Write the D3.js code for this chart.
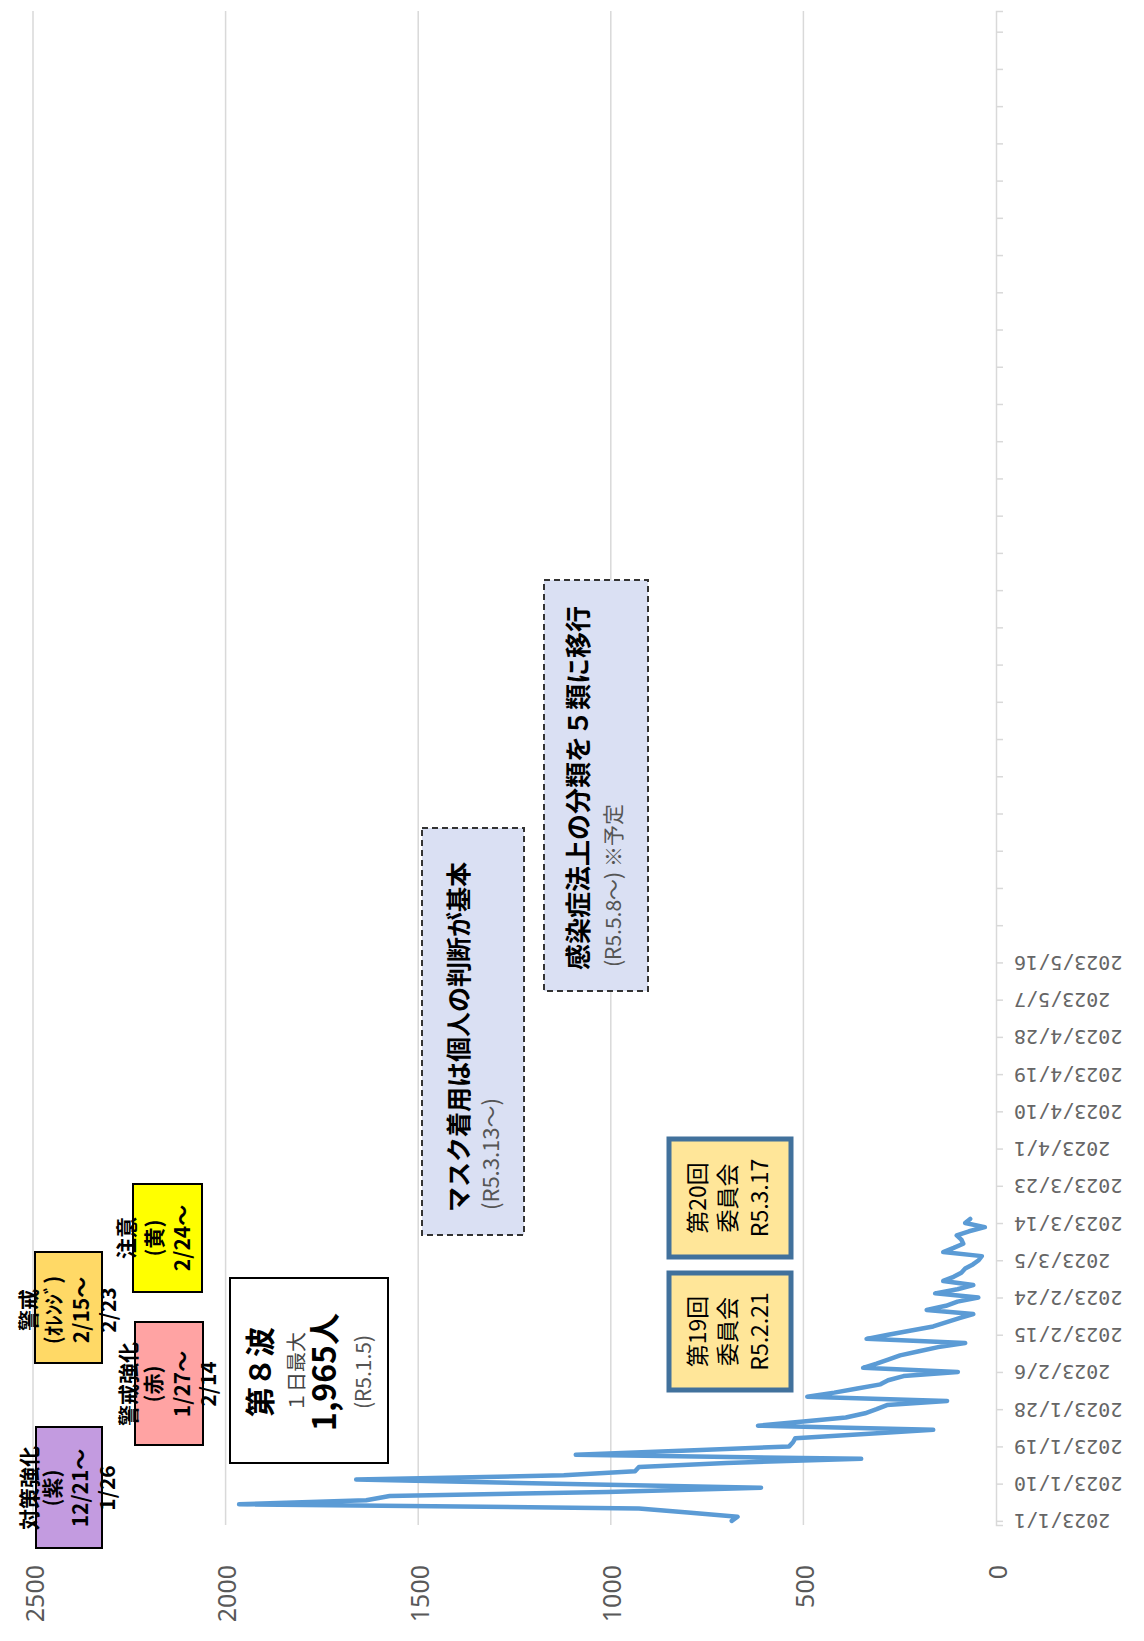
<!DOCTYPE html>
<html>
<head>
<meta charset="utf-8">
<script src="https://cdn.jsdelivr.net/npm/d3@7"></script>
<style>
  body { margin: 0; background: #fff; }
  svg { display: block; font-family: "Noto Sans CJK JP", "Noto Sans", sans-serif; }
</style>
</head>
<body>
<div id="chart"></div>
<script>
// daily new cases, 2023
var dayLabels = [
  "1/1","1/2","1/3","1/4","1/5","1/6","1/7","1/8","1/9","1/10","1/11","1/12","1/13","1/14","1/15","1/16",
  "1/17","1/18","1/19","1/20","1/21","1/22","1/23","1/24","1/25","1/26","1/27","1/28","1/29","1/30","1/31",
  "2/1","2/2","2/3","2/4","2/5","2/6","2/7","2/8","2/9","2/10","2/11","2/12","2/13","2/14","2/15","2/16",
  "2/17","2/18","2/19","2/20","2/21","2/22","2/23","2/24","2/25","2/26","2/27","2/28",
  "3/1","3/2","3/3","3/4","3/5","3/6","3/7","3/8","3/9","3/10","3/11","3/12","3/13","3/14","3/15"
];
var dailyCases = [
  686, 671, 800, 927, 1965, 1635, 1574, 1010, 610, 1140, 1661, 1122, 937, 927, 700, 350,
  1091, 800, 537, 527, 521, 340, 163, 618, 500, 390, 340, 310, 283, 127, 490,
  420, 360, 300, 280, 240, 99, 345, 310, 280, 249, 200, 150, 80, 336, 280, 220,
  163, 130, 95, 59, 180, 130, 100, 46, 158, 100, 59, 137,
  110, 90, 80, 60, 45, 37, 137, 110, 85, 90, 102, 70, 29, 80, 67
];
var valueTicks = [0, 500, 1000, 1500, 2000, 2500];
var dateTickLabels = ["2023/1/1","2023/1/10","2023/1/19","2023/1/28","2023/2/6","2023/2/15","2023/2/24",
  "2023/3/5","2023/3/14","2023/3/23","2023/4/1","2023/4/10","2023/4/19","2023/4/28","2023/5/7","2023/5/16"];

var width = 1144, height = 1641;

function parseDay(s) {
  var p = s.split("/");
  return new Date(2023, +p[0] - 1, +p[1]);
}
var series = dayLabels.map(function (s, i) { return { date: parseDay(s), value: dailyCases[i] }; });

// chart is drawn turned on its side: values run right-to-left, dates bottom-to-top
var xScale = d3.scaleLinear().domain([0, 2500]).range([996, 33]);
var yScale = d3.scaleTime()
  .domain([new Date(2022, 11, 31), new Date(2024, 0, 1)])
  .range([1525, 11]);

var svg = d3.select("#chart").append("svg")
  .attr("width", width).attr("height", height)
  .attr("viewBox", [0, 0, width, height]);
svg.append("rect").attr("width", width).attr("height", height).attr("fill", "#fff");

// gridlines
svg.append("g").selectAll("line")
  .data(valueTicks.filter(function (v) { return v > 0; }))
  .enter().append("line")
  .attr("x1", function (d) { return xScale(d); })
  .attr("x2", function (d) { return xScale(d); })
  .attr("y1", yScale.range()[1])
  .attr("y2", yScale.range()[0])
  .attr("stroke", "#d9d9d9")
  .attr("stroke-width", 1.5);

// value axis labels
var xAxis = svg.append("g")
  .attr("transform", "translate(0," + yScale.range()[0] + ")")
  .call(d3.axisBottom(xScale).tickValues(valueTicks).tickSize(0).tickFormat(d3.format("d")));
xAxis.select(".domain").remove();
xAxis.selectAll("text")
  .attr("y", null).attr("dy", null)
  .attr("transform", "translate(0,40) rotate(-90)")
  .attr("text-anchor", "end")
  .attr("dominant-baseline", "central")
  .attr("fill", "#595959")
  .style("font-family", "'Noto Sans', sans-serif")
  .style("font-size", "25px");

// date axis
var tickDates = d3.range(0, 361, 9).map(function (k) { return d3.timeDay.offset(new Date(2023, 0, 1), k); });
var yAxis = svg.append("g")
  .attr("transform", "translate(" + xScale(0) + ",0)")
  .call(d3.axisRight(yScale).tickValues(tickDates).tickSize(7)
    .tickFormat(function (d, i) { return i < dateTickLabels.length ? dateTickLabels[i] : ""; }));
yAxis.selectAll(".domain, .tick line").attr("stroke", "#d9d9d9").attr("stroke-width", 1.5);
yAxis.selectAll("text")
  .attr("x", null).attr("dy", null)
  .attr("transform", "translate(18,0) rotate(180)")
  .attr("text-anchor", "end")
  .attr("dominant-baseline", "central")
  .attr("fill", "#666")
  .style("font-family", "'DejaVu Sans Mono', monospace")
  .style("font-size", "20px");

// case line
svg.append("path")
  .datum(series)
  .attr("fill", "none")
  .attr("stroke", "#5b9bd5")
  .attr("stroke-width", 4.5)
  .attr("stroke-linejoin", "round")
  .attr("stroke-linecap", "round")
  .attr("d", d3.line()
    .x(function (d) { return xScale(d.value); })
    .y(function (d) { return yScale(d.date); }));

// annotations
var notes = svg.append("g");
function vtext(x, y, str, o) {
  o = o || {};
  notes.append("text")
    .attr("transform", "translate(" + x + "," + y + ") rotate(-90)")
    .attr("text-anchor", o.anchor || "middle")
    .attr("dominant-baseline", "central")
    .attr("fill", o.color || "#000")
    .style("font-size", (o.size || 21) + "px")
    .style("font-weight", o.weight || "normal")
    .style("font-family", o.family || null)
    .text(str);
}
function box(x, y, w, h, fill, stroke, sw, dash) {
  notes.append("rect")
    .attr("x", x).attr("y", y).attr("width", w).attr("height", h)
    .attr("fill", fill).attr("stroke", stroke).attr("stroke-width", sw)
    .attr("stroke-dasharray", dash || null);
}

// alert stages
box(36, 1427, 66, 121, "#c39be0", "#000", 2);
[["対策強化", 28], ["(紫)", 51], ["12/21～", 79], ["1/26", 106]].forEach(function (t) {
  vtext(t[1], 1488, t[0], { weight: "bold" });
});
box(135, 1322, 68, 123, "#ffa3a3", "#000", 2);
[["警戒強化", 127], ["(赤)", 152], ["1/27～", 181], ["2/14", 207]].forEach(function (t) {
  vtext(t[1], 1384, t[0], { weight: "bold" });
});
box(35, 1252, 67, 111, "#ffd966", "#000", 2);
[["警戒", 27], ["(ｵﾚﾝｼﾞ)", 52], ["2/15～", 80], ["2/23", 107]].forEach(function (t) {
  vtext(t[1], 1310, t[0], { weight: "bold" });
});
box(133, 1184, 69, 108, "#ffff00", "#000", 2);
[["注意", 125], ["(黄)", 153], ["2/24～", 181]].forEach(function (t) {
  vtext(t[1], 1238, t[0], { weight: "bold" });
});

// wave peak
box(230, 1278, 158, 185, "#fff", "#000", 2);
vtext(258, 1372, "第８波", { size: 30, weight: "bold" });
vtext(295, 1372, "１日最大", { size: 20, color: "#444" });
vtext(322, 1372, "1,965人", { size: 32, weight: "bold" });
vtext(362, 1372, "(R5.1.5)", { size: 21, color: "#555" });

// policy notes
box(422, 828, 102, 407, "#dae0f3", "#333", 2, "6,4");
vtext(457, 1212, "マスク着用は個人の判断が基本", { size: 25, weight: "bold", anchor: "start" });
vtext(489, 1210, "(R5.3.13～)", { size: 22, color: "#555", anchor: "start" });
box(544, 580, 104, 411, "#dae0f3", "#333", 2, "6,4");
vtext(576, 970, "感染症法上の分類を５類に移行", { size: 26, weight: "bold", anchor: "start" });
vtext(612, 967, "(R5.5.8～) ※予定", { size: 21, color: "#555", anchor: "start" });

// committee meetings
[["第20回", "R5.3.17", 1139, 118], ["第19回", "R5.2.21", 1273, 117]].forEach(function (c) {
  box(669, c[2], 122, c[3], "#ffe699", "#41719c", 5);
  var cy = c[2] + c[3] / 2;
  vtext(696, cy, c[0], { size: 23 });
  vtext(726, cy, "委員会", { size: 23 });
  vtext(758, cy, c[1], { size: 23 });
});
</script>
</body>
</html>
